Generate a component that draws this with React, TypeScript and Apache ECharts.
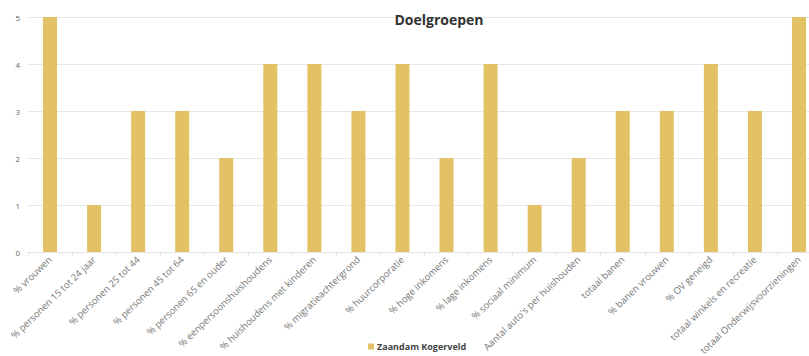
import React, { useEffect, useRef } from "react";
import * as echarts from "echarts";

const categories = [
  "% vrouwen",
  "% personen 15 tot 24 jaar",
  "% personen 25 tot 44",
  "% personen 45 tot 64",
  "% personen 65 en ouder",
  "% eenpersoonshuishoudens",
  "% huishoudens met kinderen",
  "% migratieachtergrond",
  "% huurcorporatie",
  "% hoge inkomens",
  "% lage inkomens",
  "% sociaal minimum",
  "Aantal auto's per huishouden",
  "totaal banen",
  "% banen vrouwen",
  "% OV geneigd",
  "totaal winkels en recreatie",
  "totaal Onderwijsvoorzieningen",
];

const kogerveld = [5, 1, 3, 3, 2, 4, 4, 3, 4, 2, 4, 1, 2, 3, 3, 4, 3, 5];

const seriesName = "Zaandam Kogerveld";
const yTicks = [0, 1, 2, 3, 4, 5];

const FONT = "'Open Sans', Lato, sans-serif";

export default function App() {
  const ref = useRef<HTMLDivElement>(null);

  useEffect(() => {
    if (!ref.current) return;
    const chart = echarts.init(ref.current, undefined, { renderer: "svg" });
    chart.setOption({
      animation: false,
      backgroundColor: "#ffffff",
      title: {
        text: "Doelgroepen",
        left: 434,
        top: 7,
        textAlign: "center",
        textStyle: { fontFamily: FONT, fontSize: 14, fontWeight: "bold", color: "#333" },
      },
      legend: {
        data: [seriesName],
        left: 363,
        bottom: 0,
        itemWidth: 6,
        itemHeight: 6,
        icon: "rect",
        itemGap: 4,
        textStyle: { fontFamily: FONT, fontSize: 9, fontWeight: "bold", color: "#444", padding: [0, 0, 0, -2] },
      },
      // plot runs past the right edge so the last bar sits against it
      grid: {
        left: 28,
        width: 793,
        top: 17,
        bottom: 104,
        containLabel: false,
        outerBoundsMode: "none",
      },
      xAxis: {
        type: "category",
        data: categories,
        axisLine: { show: true, lineStyle: { color: "#e2e2e2" } },
        axisTick: { show: true, length: 4, lineStyle: { color: "#e2e2e2" } },
        axisLabel: {
          interval: 0,
          rotate: 44,
          fontFamily: FONT,
          fontSize: 9.5,
          color: "#777",
          margin: 6,
        },
      },
      yAxis: {
        type: "value",
        min: yTicks[0],
        max: yTicks[yTicks.length - 1],
        interval: 1,
        axisLine: { show: false },
        axisTick: { show: false },
        splitLine: { lineStyle: { color: "#e8e8e8" } },
        axisLabel: { fontFamily: FONT, fontSize: 8, color: "#666", margin: 8 },
      },
      series: [
        {
          name: seriesName,
          type: "bar",
          data: kogerveld,
          barWidth: 14,
          itemStyle: { color: "#e2c265" },
        },
      ],
    });
    return () => chart.dispose();
  }, []);

  return <div ref={ref} style={{ width: 809, height: 356, position: "absolute", left: 0, top: 0 }} />;
}
